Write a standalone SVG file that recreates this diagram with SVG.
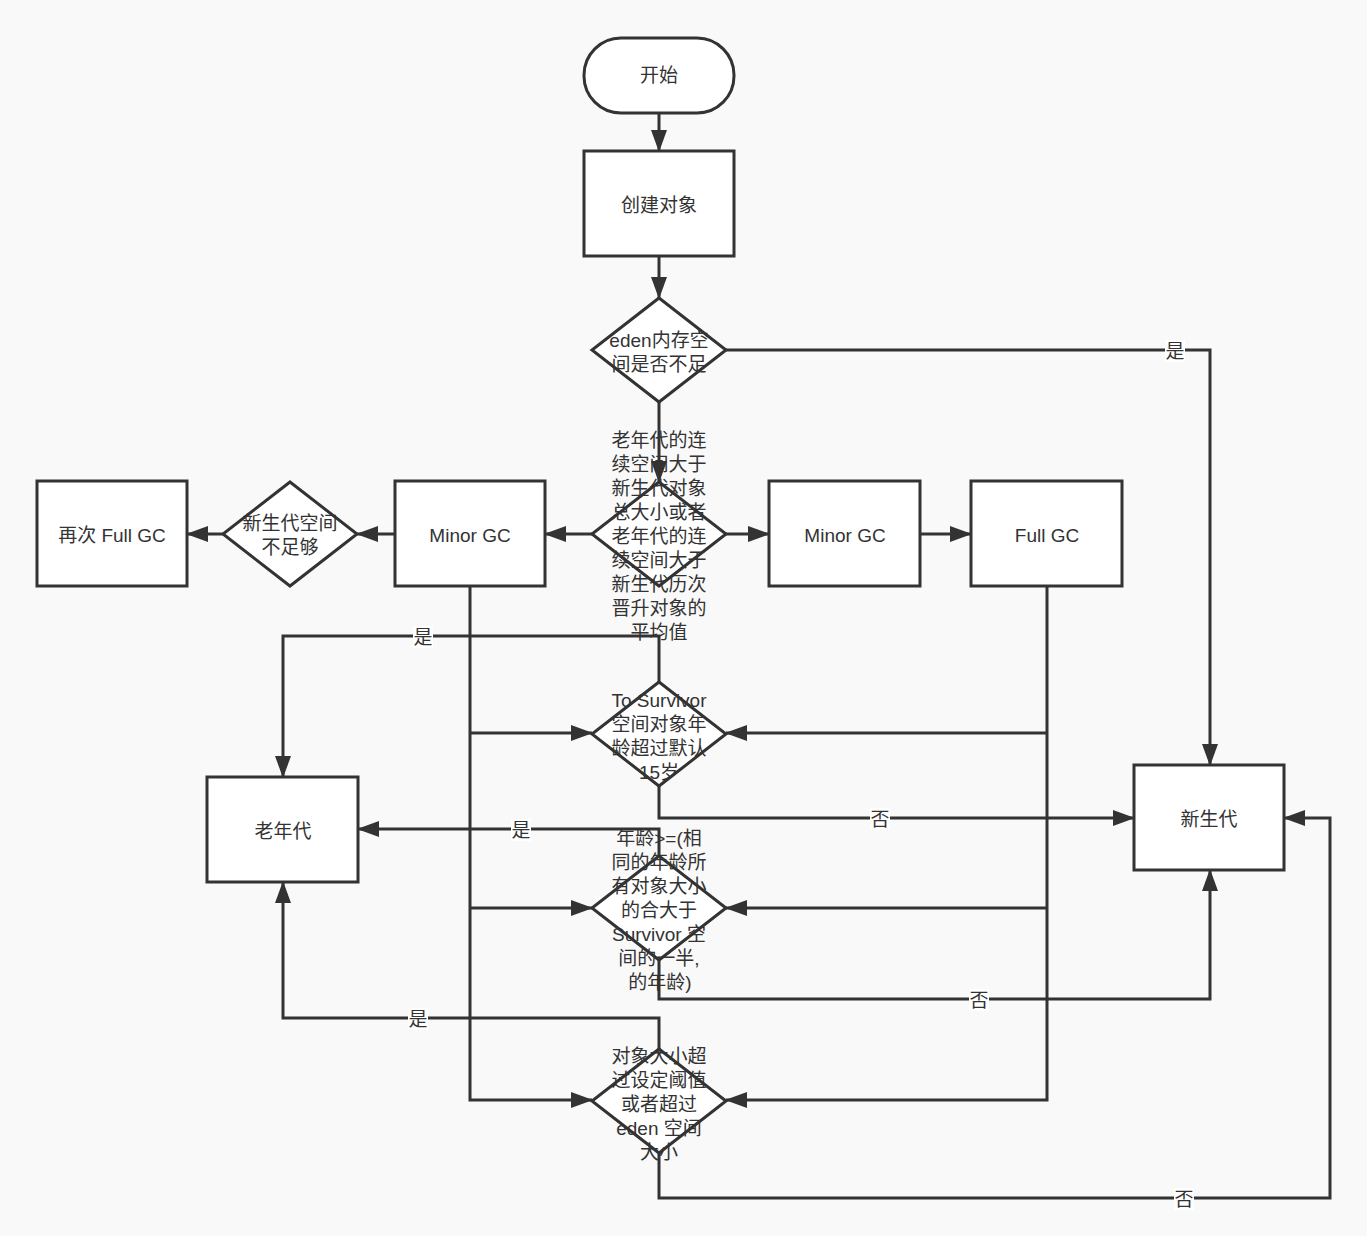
<svg xmlns="http://www.w3.org/2000/svg" width="1367" height="1236" viewBox="0 0 1367 1236">
<defs>
<marker id="arr" viewBox="0 0 22 16" refX="21" refY="8" markerWidth="22" markerHeight="16" markerUnits="userSpaceOnUse" orient="auto">
<path d="M0,0 L22,8 L0,16 Z" fill="#333"/>
</marker>
<style>
.n{fill:#fff;stroke:#333;stroke-width:3}
.c{fill:none;stroke:#333;stroke-width:3}
.a{marker-end:url(#arr)}
text{font-family:"Liberation Sans","Noto Sans CJK SC",sans-serif;font-size:19px;fill:#333;text-anchor:middle;dominant-baseline:central}
.lb{fill:#fff}
</style>
</defs>
<rect width="1367" height="1236" fill="#f9f9f9"/>
<g id="connectors">
<path class="c a" d="M659,113 V151"/>
<path class="c a" d="M659,256 V298"/>
<path class="c a" d="M726,350 H1210 V765"/>
<path class="c a" d="M659,402 V482"/>
<path class="c a" d="M592,534 H545"/>
<path class="c a" d="M726,534 H769"/>
<path class="c a" d="M920,534 H971"/>
<path class="c a" d="M395,534 H357"/>
<path class="c a" d="M223,534 H187"/>
<path class="c a" d="M470,586 V1100 H592"/>
<path class="c a" d="M470,733 H592"/>
<path class="c a" d="M470,908 H592"/>
<path class="c a" d="M1047,586 V1100 H726"/>
<path class="c a" d="M1047,733 H726"/>
<path class="c a" d="M1047,908 H726"/>
<path class="c a" d="M659,682 V636 H283 V777"/>
<path class="c a" d="M659,786 V818 H1134"/>
<path class="c a" d="M659,856 V829 H358"/>
<path class="c a" d="M659,960 V999 H1210 V870"/>
<path class="c a" d="M659,1049 V1018 H283 V882"/>
<path class="c a" d="M659,1153 V1198 H1330 V818 H1284"/>
<rect class="lb" x="1165" y="340" width="20" height="22"/><text x="1175" y="351">是</text>
<rect class="lb" x="413" y="626" width="20" height="22"/><text x="423" y="637">是</text>
<rect class="lb" x="870" y="808" width="20" height="22"/><text x="880" y="819">否</text>
<rect class="lb" x="511" y="819" width="20" height="22"/><text x="521" y="830">是</text>
<rect class="lb" x="969" y="989" width="20" height="22"/><text x="979" y="1000">否</text>
<rect class="lb" x="408" y="1008" width="20" height="22"/><text x="418" y="1019">是</text>
<rect class="lb" x="1174" y="1188" width="20" height="22"/><text x="1184" y="1199">否</text>
</g>
<g id="start"><rect class="n" x="584" y="38" width="150" height="75" rx="37" ry="37"/><text x="659" y="75">开始</text></g>
<g id="create"><rect class="n" x="584" y="151" width="150" height="105"/><text x="659" y="205">创建对象</text></g>
<g id="eden-check"><path class="n" d="M659,298 L726,350 L659,402 L592,350 Z"/><text x="659" y="340">eden内存空</text><text x="659" y="364">间是否不足</text></g>
<g id="old-check"><path class="n" d="M659,482 L726,534 L659,586 L592,534 Z"/>
<text x="659" y="440">老年代的连</text><text x="659" y="464">续空间大于</text><text x="659" y="488">新生代对象</text><text x="659" y="512">总大小或者</text><text x="659" y="536">老年代的连</text><text x="659" y="560">续空间大于</text><text x="659" y="584">新生代历次</text><text x="659" y="608">晋升对象的</text><text x="659" y="632">平均值</text></g>
<g id="minor-left"><rect class="n" x="395" y="481" width="150" height="105"/><text x="470" y="535">Minor GC</text></g>
<g id="minor-right"><rect class="n" x="769" y="481" width="151" height="105"/><text x="845" y="535">Minor GC</text></g>
<g id="full-gc"><rect class="n" x="971" y="481" width="151" height="105"/><text x="1047" y="535">Full GC</text></g>
<g id="young-insufficient"><path class="n" d="M290,482 L357,534 L290,586 L223,534 Z"/><text x="290" y="523">新生代空间</text><text x="290" y="547">不足够</text></g>
<g id="full-gc-again"><rect class="n" x="37" y="481" width="150" height="105"/><text x="112" y="535">再次 Full GC</text></g>
<g id="old-gen"><rect class="n" x="207" y="777" width="151" height="105"/><text x="283" y="831">老年代</text></g>
<g id="young-gen"><rect class="n" x="1134" y="765" width="150" height="105"/><text x="1209" y="819">新生代</text></g>
<g id="age-check"><path class="n" d="M659,682 L726,734 L659,786 L592,734 Z"/><text x="659" y="700">To Survivor</text><text x="659" y="724">空间对象年</text><text x="659" y="748">龄超过默认</text><text x="659" y="772">15岁</text></g>
<g id="dynamic-age"><path class="n" d="M659,856 L726,908 L659,960 L592,908 Z"/><text x="659" y="838">年龄&gt;=(相</text><text x="659" y="862">同的年龄所</text><text x="659" y="886">有对象大小</text><text x="659" y="910">的合大于</text><text x="659" y="934">Survivor 空</text><text x="659" y="958">间的一半,</text><text x="660" y="982">的年龄)</text></g>
<g id="size-check"><path class="n" d="M659,1049 L726,1101 L659,1153 L592,1101 Z"/><text x="659" y="1056">对象大小超</text><text x="659" y="1080">过设定阈值</text><text x="659" y="1104">或者超过</text><text x="659" y="1128">eden 空间</text><text x="659" y="1152">大小</text></g>
</svg>
